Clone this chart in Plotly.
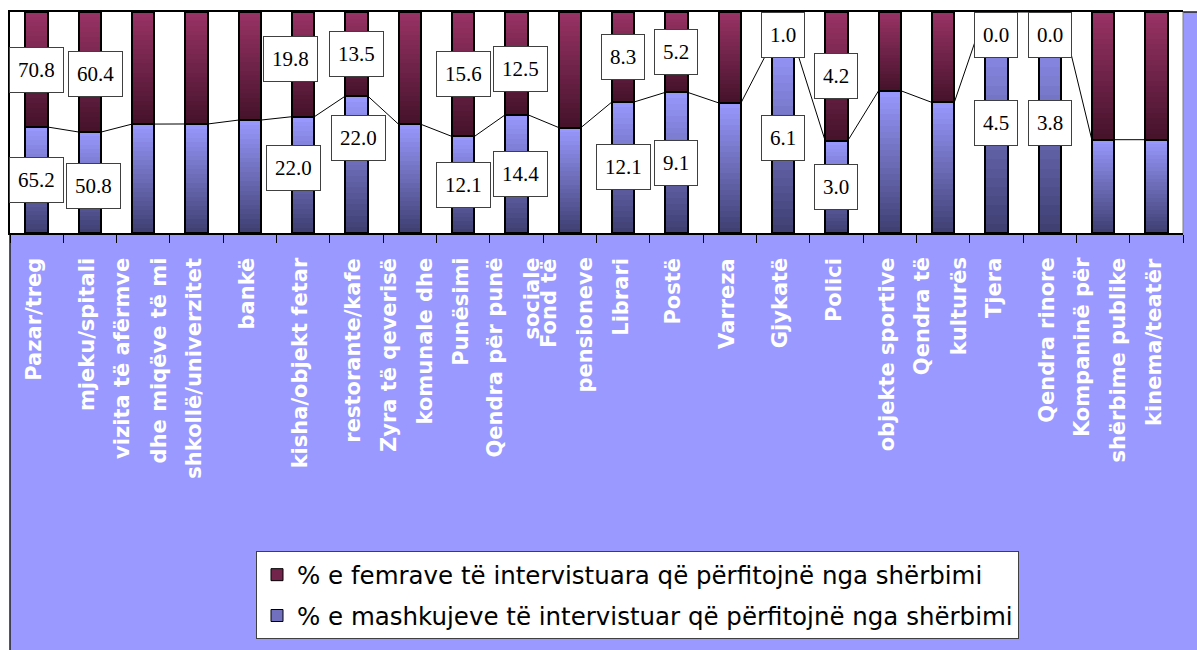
import plotly.graph_objects as go

# Service categories (each inner list is one wrapped line of the axis label)
label_lines = [
    ["Pazar/treg"],
    ["mjeku/spitali"],
    ["vizita të afërmve", "dhe miqëve të mi"],
    ["shkollë/univerzitet"],
    ["bankë"],
    ["kisha/objekt fetar"],
    ["restorante/kafe"],
    ["Zyra të qeverisë", "komunale dhe"],
    ["Punësimi"],
    ["Qendra për punë", "sociale"],
    ["Fond të", "pensioneve"],
    ["Librari"],
    ["Postë"],
    ["Varreza"],
    ["Gjykatë"],
    ["Polici"],
    ["objekte sportive"],
    ["Qendra të", "kulturës"],
    ["Tjera"],
    ["Qendra rinore"],
    ["Kompaninë për", "shërbime publike"],
    ["kinema/teatër"],
]

# % of interviewed men / women who use each service
male = [65.2, 50.8, 34.6, 29.4, 25.3, 22.0, 22.0, 17.6, 12.1, 14.4, 8.4,
        12.1, 9.1, 10.6, 6.1, 3.0, 6.5, 5.2, 4.5, 3.8, 1.9, 1.9]
female = [70.8, 60.4, 35.6, 30.2, 24.2, 19.8, 13.5, 18.2, 15.6, 12.5, 9.2,
          8.3, 5.2, 7.4, 1.0, 4.2, 3.6, 3.6, 0.0, 0.0, 2.6, 2.6]
# which bars carry value labels
labeled = [True, True, False, False, False, True, True, False, True, True, False,
           True, True, False, True, True, False, False, True, True, False, False]

name_f = "% e femrave të intervistuara që përfitojnë nga shërbimi"
name_m = "% e mashkujeve të intervistuar që përfitojnë nga shërbimi"

# ---- styling -------------------------------------------------------------
W, H = 1197, 650
ML, MR, MT, MB = 10, 14, 10, 415
PW, PH = W - ML - MR, H - MT - MB
BAR_W = 0.42
N_SLICES = 24
LAVENDER = "#9999FF"
MALE_DARK, MALE_LIGHT = (62, 62, 112), (153, 153, 255)
FEM_DARK, FEM_LIGHT = (68, 18, 42), (153, 51, 102)

# label nudges in pixels: index -> (female dx, dy, male dx, dy), +dy = down
label_nudge = {
    1: (6, 2, 4, 3),
    5: (-13, -5, -10, -7),
    6: (0, 0, 2, -27),
    9: (4, 6, 4, 0),
}


def mix(c0, c1, t):
    return "rgb(%d,%d,%d)" % tuple(round(a + (b - a) * t) for a, b in zip(c0, c1))


def py_to_paper(py):
    return (MT + PH - py) / PH


def px_to_paper(px):
    return (px - ML) / PW


n = len(male)
idx = list(range(n))
male_share = [m / (m + f) * 100 for m, f in zip(male, female)]

fig = go.Figure()

# gradient fills: each segment is split into thin stacked bands, dark at the bottom
for series, dark, light in ((male, MALE_DARK, MALE_LIGHT), (female, FEM_DARK, FEM_LIGHT)):
    for k in range(N_SLICES):
        fig.add_trace(go.Bar(
            x=idx, y=[v / N_SLICES for v in series], width=BAR_W,
            marker=dict(color=mix(dark, light, (k + 0.5) / N_SLICES), line=dict(width=0)),
            showlegend=False, hoverinfo="skip",
        ))

# series lines joining the tops of the male segments
sx, sy = [], []
for i in range(n - 1):
    sx += [i + BAR_W / 2, i + 1 - BAR_W / 2, None]
    sy += [male_share[i], male_share[i + 1], None]
fig.add_trace(go.Scatter(x=sx, y=sy, mode="lines", line=dict(color="black", width=1),
                         showlegend=False, hoverinfo="skip"))

# segment outlines on an overlaid pair of axes
for series in (male, female):
    fig.add_trace(go.Bar(
        x=idx, y=series, width=BAR_W, xaxis="x2", yaxis="y2",
        marker=dict(color="rgba(0,0,0,0)", line=dict(color="black", width=2)),
        showlegend=False, hoverinfo="skip",
    ))

# legend entries (kept on a hidden axis pair)
for series, name, color, grp in ((female, name_f, mix(FEM_DARK, FEM_LIGHT, 0.55), "f"),
                                 (male, name_m, mix(MALE_DARK, MALE_LIGHT, 0.55), "m")):
    fig.add_trace(go.Bar(
        x=idx, y=series, width=BAR_W, xaxis="x3", yaxis="y3", name=name, legendgroup=grp,
        marker=dict(color=color, line=dict(color="black", width=1)),
        hoverinfo="skip",
    ))

annotations = []

# value labels centred in each segment
box_half = 23
ymax_center = 100 - box_half / PH * 100
for i in range(n):
    if not labeled[i]:
        continue
    fdx, fdy, mdx, mdy = label_nudge.get(i, (0, 0, 0, 0))
    m_center = male_share[i] / 2
    f_center = min((male_share[i] + 100) / 2, ymax_center)
    for val, yc, dx, dy in ((female[i], f_center, fdx, fdy), (male[i], m_center, mdx, mdy)):
        annotations.append(dict(
            x=i, y=yc, xref="x", yref="y", text=f"{val:.1f}", showarrow=False,
            font=dict(family="Liberation Serif", size=21, color="black"),
            bgcolor="white", bordercolor="#404040", borderwidth=1, borderpad=8,
            height=28, xshift=dx, yshift=-dy,
        ))

# rotated category labels, one annotation per wrapped line
line_gap = 37
for i, lines in enumerate(label_lines):
    k = len(lines)
    for j, txt in enumerate(lines):
        off = -3 + (j - (k - 1) / 2) * line_gap
        annotations.append(dict(
            x=i, y=py_to_paper(258), xref="x", yref="paper", text=txt, showarrow=False,
            textangle=-90, xanchor="center", yanchor="top", align="right",
            font=dict(family="DejaVu Sans", size=21, color="white", weight="bold"),
            xshift=off,
        ))

shapes = [
    # chart area
    dict(type="rect", xref="paper", yref="paper", x0=0, x1=1.05, y0=-2.2, y1=1,
         fillcolor=LAVENDER, line=dict(color="#202020", width=1.5), layer="below"),
    # plot area
    dict(type="rect", xref="paper", yref="paper", x0=0, x1=1, y0=0, y1=1,
         fillcolor="white", line=dict(width=0), layer="below"),
    dict(type="line", xref="paper", yref="paper", x0=1, x1=1, y0=0, y1=1,
         line=dict(color="#808080", width=1)),
]

xrange_ = [-0.5, n - 0.5]
fig.update_layout(
    width=W, height=H,
    margin=dict(l=ML, r=MR, t=MT, b=MB),
    paper_bgcolor="white", plot_bgcolor="rgba(0,0,0,0)",
    barmode="stack", barnorm="percent",
    xaxis=dict(range=xrange_, tickvals=[i - 0.5 for i in range(n + 1)], ticks="outside",
               ticklen=8, tickwidth=1, tickcolor="black", showticklabels=False,
               showline=True, linecolor="black", linewidth=2, mirror=True,
               showgrid=False, zeroline=False, fixedrange=True),
    yaxis=dict(range=[0, 100], showticklabels=False, ticks="", showline=True,
               linecolor="black", linewidth=2, showgrid=False, zeroline=False),
    xaxis2=dict(range=xrange_, overlaying="x", anchor="y2", visible=False),
    yaxis2=dict(range=[0, 100], overlaying="y", anchor="x2", visible=False),
    xaxis3=dict(range=xrange_, overlaying="x", anchor="y3", visible=False),
    yaxis3=dict(range=[200, 300], overlaying="y", anchor="x3", visible=False),
    showlegend=True,
    legend=dict(x=px_to_paper(256), y=py_to_paper(559), xanchor="left", yanchor="top",
                bgcolor="white", bordercolor="#404040", borderwidth=1,
                font=dict(family="DejaVu Sans", size=24.5, color="black"),
                traceorder="grouped", tracegroupgap=6),
    annotations=annotations,
    shapes=shapes,
)

fig.write_html("out.html")
